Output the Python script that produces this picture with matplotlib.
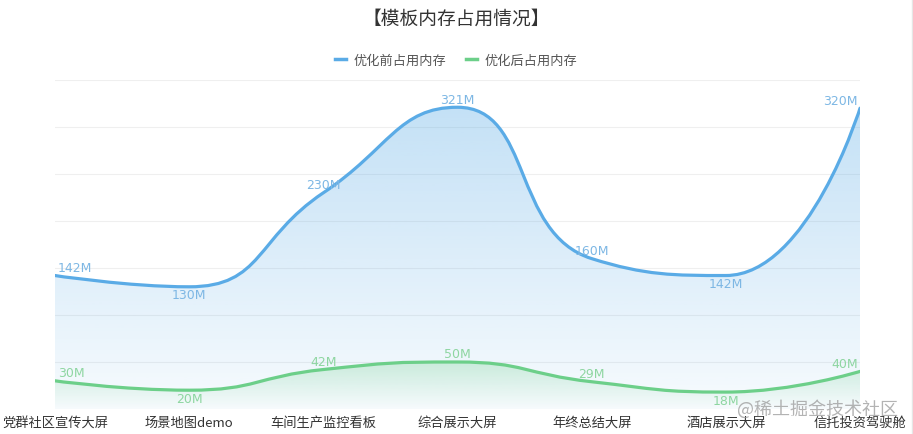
import numpy as np
import matplotlib
matplotlib.use("Agg")
import matplotlib.pyplot as plt
import matplotlib.colors as mcolors
from matplotlib.path import Path
from matplotlib.patches import PathPatch
from matplotlib.lines import Line2D

plt.rcParams['font.family'] = ['Noto Sans CJK SC', 'DejaVu Sans']

# data
categories = ['党群社区宣传大屏', '场景地图demo', '车间生产监控看板', '综合展示大屏',
              '年终总结大屏', '酒店展示大屏', '信托投资驾驶舱']
before = [142, 130, 230, 321, 160, 142, 320]
after = [30, 20, 42, 50, 29, 18, 40]
series_names = ['优化前占用内存', '优化后占用内存']
title = '【模板内存占用情况】'
y_max = 350
y_step = 50

BLUE = '#5AABE6'
GREEN = '#6CCF89'
BLUE_LABEL = '#7DB7E4'
GREEN_LABEL = '#8ED6A1'

W, H = 913, 435
fig = plt.figure(figsize=(W / 100, H / 100), dpi=100)
ax = fig.add_axes([55 / W, 25 / H, 805 / W, 329 / H])
n = len(categories)
xs = np.arange(n)
ax.set_xlim(0, n - 1)
ax.set_ylim(0, y_max)


def smooth_path(xv, yv, smooth=0.5):
    # echarts-like smooth line, computed in pixel space
    pts = ax.transData.transform(np.column_stack([xv, yv]).astype(float))
    verts = [tuple(pts[0])]
    codes = [Path.MOVETO]
    cp0 = pts[0].copy()
    for k in range(1, len(pts)):
        px, py = pts[k - 1]
        cx, cy = pts[k]
        if k == len(pts) - 1:
            verts += [tuple(cp0), (cx, cy), (cx, cy)]
            codes += [Path.CURVE4] * 3
            break
        nx, ny = pts[k + 1]
        vx, vy = nx - px, ny - py
        len_prev = np.hypot(cx - px, cy - py)
        len_next = np.hypot(nx - cx, ny - cy)
        ratio = len_next / (len_next + len_prev)
        ncx = cx + vx * smooth * ratio
        ncy = cy + vy * smooth * ratio
        ncx = min(max(ncx, min(nx, cx)), max(nx, cx))
        ncy = min(max(ncy, min(ny, cy)), max(ny, cy))
        vx, vy = ncx - cx, ncy - cy
        c1x = cx - vx * len_prev / len_next
        c1y = cy - vy * len_prev / len_next
        c1x = min(max(c1x, min(px, cx)), max(px, cx))
        c1y = min(max(c1y, min(py, cy)), max(py, cy))
        vx, vy = cx - c1x, cy - c1y
        ncx = cx + vx * len_next / len_prev
        ncy = cy + vy * len_next / len_prev
        verts += [tuple(cp0), (c1x, c1y), (cx, cy)]
        codes += [Path.CURVE4] * 3
        cp0 = np.array([ncx, ncy])
    verts = ax.transData.inverted().transform(np.array(verts))
    return verts, codes


def draw_series(vals, color, label_color, a_top, a_bot, z):
    verts, codes = smooth_path(xs, vals)
    line = Path(verts, codes)
    area_verts = np.vstack([verts, [[xs[-1], 0], [xs[0], 0], [xs[0], vals[0]]]])
    area = Path(area_verts, codes + [Path.LINETO, Path.LINETO, Path.CLOSEPOLY])

    # vertical gradient under the curve
    img = np.zeros((256, 1, 4))
    img[..., :3] = mcolors.to_rgb(color)
    img[:, 0, 3] = np.linspace(a_bot, a_top, 256)
    im = ax.imshow(img, extent=[xs[0], xs[-1], 0, max(vals)], origin='lower',
                   aspect='auto', interpolation='bilinear', zorder=z)
    im.set_clip_path(PathPatch(area, transform=ax.transData))

    ax.add_patch(PathPatch(line, facecolor='none', edgecolor=color, lw=2.3,
                           capstyle='round', joinstyle='round', zorder=z + 1))

    for i, v in enumerate(vals):
        low = 0 < i < n - 1 and v < vals[i - 1] and v < vals[i + 1]
        dy = -8 if low else 8
        ha, dx = 'center', 0
        if i == 0:
            ha, dx = 'left', 3
        elif i == n - 1:
            ha, dx = 'right', -2
        ax.annotate(f'{v}M', (xs[i], v), xytext=(dx, dy), textcoords='offset pixels',
                    ha=ha, va='center', fontsize=9, color=label_color,
                    family='DejaVu Sans', zorder=z + 2)


draw_series(before, BLUE, BLUE_LABEL, 0.36, 0.05, 2)
draw_series(after, GREEN, GREEN_LABEL, 0.28, 0.0, 4)
ax.set_xlim(0, n - 1)
ax.set_ylim(0, y_max)

ax.set_yticks(np.arange(0, y_max + 1, y_step))
ax.yaxis.grid(True, color='#EFEFEF', lw=0.8)
ax.set_axisbelow(True)
ax.tick_params(axis='y', length=0, labelleft=False)
ax.set_xticks(xs, categories)
ax.tick_params(axis='x', length=0, pad=5, labelsize=9.5, labelcolor='#333333')
for s in ax.spines.values():
    s.set_visible(False)

fig.text(0.5, 1 - 19 / H, title, ha='center', va='center', fontsize=13.5, color='#333333')

handles = [Line2D([], [], color=BLUE, lw=2.5), Line2D([], [], color=GREEN, lw=2.5)]
fig.legend(handles, series_names, loc='center', bbox_to_anchor=(0.5, 1 - 61 / H),
           ncol=2, frameon=False, handlelength=0.8, handletextpad=0.6,
           columnspacing=1.5, fontsize=9.5, labelcolor='#555555')

fig.text(898 / W, 1 - 409 / H, '@稀土掘金技术社区', ha='right', va='center',
         fontsize=13, color='#9A9A9A', alpha=0.75)
fig.add_artist(Line2D([912 / W, 912 / W], [0, 1], transform=fig.transFigure,
                      color='#E6E6E6', lw=1))

fig.savefig('out.png', dpi=100)
